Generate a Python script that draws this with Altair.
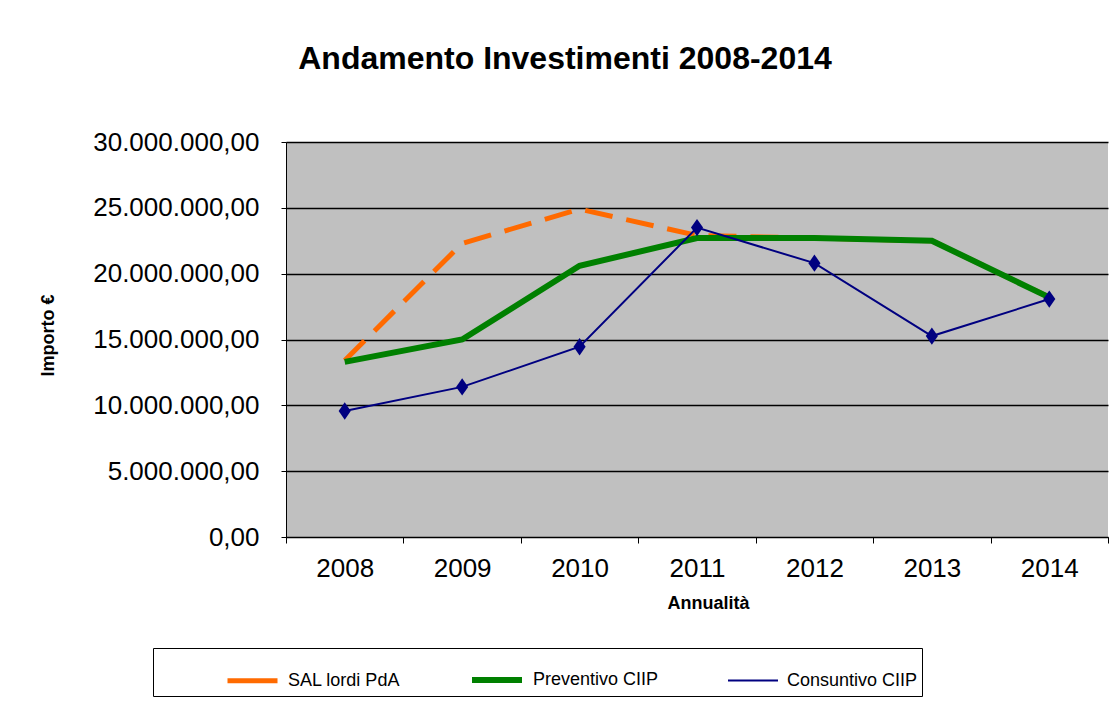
import altair as alt
import pandas as pd

years = ["2008", "2009", "2010", "2011", "2012", "2013", "2014"]
sal_lordi = [13400000, 22300000, 24900000, 22900000, 22700000, 22500000, 18200000]
preventivo = [13300000, 15000000, 20600000, 22700000, 22700000, 22500000, 18200000]
consuntivo = [9570000, 11400000, 14450000, 23500000, 20800000, 15260000, 18070000]

series_names = ["SAL lordi PdA", "Preventivo CIIP", "Consuntivo CIIP"]
series_colors = ["#FF6A00", "#008000", "#000080"]
series_widths = [5, 6, 2]

rows = []
for name, vals in zip(series_names, [sal_lordi, preventivo, consuntivo]):
    for yr, v in zip(years, vals):
        rows.append({"anno": yr, "valore": v, "serie": name})
df = pd.DataFrame(rows)

FONT = "Liberation Sans"

color_enc = alt.Color("serie:N", scale=alt.Scale(domain=series_names, range=series_colors),
                      legend=alt.Legend(title=None))
width_enc = alt.StrokeWidth("serie:N",
                            scale=alt.Scale(type="ordinal", domain=series_names, range=series_widths),
                            legend=alt.Legend(title=None))

label_expr = ("replace(replace(replace(format(datum.value, ',.2f'), regexp(',', 'g'), '#'), "
              "regexp('[.]', 'g'), ','), regexp('#', 'g'), '.')")

x_enc = alt.X("anno:O", sort=years, title="Annualità",
              axis=alt.Axis(labelAngle=0, labelFontSize=26, labelFont=FONT, labelColor="black",
                            tickBand="extent", tickSize=6, tickColor="black", domainColor="black",
                            labelPadding=12, grid=False,
                            titleFont=FONT, titleFontSize=18, titleFontWeight="bold",
                            titleX=422, titleY=66, titleBaseline="middle", titleAlign="center"))
y_enc = alt.Y("valore:Q", title="Importo €",
              scale=alt.Scale(domain=[0, 30000000], nice=False),
              axis=alt.Axis(values=[0, 5000000, 10000000, 15000000, 20000000, 25000000, 30000000],
                            labelExpr=label_expr, labelFontSize=26, labelFont=FONT, labelColor="black",
                            tickSize=5, tickColor="black", domainColor="black", labelPadding=22,
                            gridColor="black", gridWidth=1.3,
                            titleFont=FONT, titleFontSize=18, titleFontWeight="bold",
                            titleX=-238, titleY=193, titleAngle=-90, titleAlign="center",
                            titleBaseline="middle"))

base = alt.Chart(df)

orange = base.transform_filter(alt.datum.serie == series_names[0]).mark_line(
    strokeDash=[28, 14]).encode(x=x_enc, y=y_enc, color=color_enc, strokeWidth=width_enc)
green = base.transform_filter(alt.datum.serie == series_names[1]).mark_line().encode(
    x=x_enc, y=y_enc, color=color_enc, strokeWidth=width_enc)
blue = base.transform_filter(alt.datum.serie == series_names[2]).mark_line().encode(
    x=x_enc, y=y_enc, color=color_enc, strokeWidth=width_enc)
diamonds = base.transform_filter(alt.datum.serie == series_names[2]).mark_point(
    shape="M0,-1L0.7,0L0,1L-0.7,0Z", filled=True, size=300, opacity=1).encode(
    x=x_enc, y=y_enc, color=alt.value("#000080"))

chart = alt.layer(orange, green, blue, diamonds).properties(
    width=822, height=395,
    autosize=alt.AutoSizeParams(type="none"),
    padding={"left": 278, "top": 134, "right": 4, "bottom": 170},
    background="white",
    title=alt.TitleParams("Andamento Investimenti 2008-2014", font=FONT, fontSize=32,
                          fontWeight="bold", color="black", anchor="middle", frame="group",
                          offset=53, dx=-132),
).configure_view(
    fill="#C0C0C0", stroke=None
).configure_legend(
    orient="none", legendX=-133, legendY=506, direction="horizontal",
    strokeColor="black", padding=4, symbolType="stroke", symbolSize=2500,
    labelFontSize=18, labelFont=FONT, labelColor="black",
    symbolOffset=68, labelOffset=8, columnPadding=0, fillColor="white"
)

chart.save("out.html", embed_options={"renderer": "svg", "actions": False})
